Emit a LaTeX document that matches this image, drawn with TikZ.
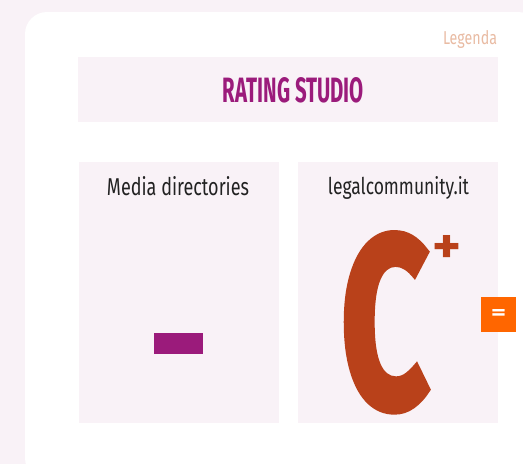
\documentclass[tikz,border=0pt]{standalone}
\usepackage{fontspec}
\usepackage{graphicx}
\setmainfont{Fira Sans}
\newfontfamily\heavyfont[FakeBold=3]{Fira Sans}
\definecolor{bgpink}{HTML}{F9F2F7}
\definecolor{titlepurple}{HTML}{9B1B7B}
\definecolor{legendpeach}{HTML}{E9BBA3}
\definecolor{darktext}{HTML}{222222}
\definecolor{ratingrust}{HTML}{B9411A}
\definecolor{eqorange}{HTML}{FF6600}
\begin{document}
\begin{tikzpicture}[x=1pt,y=-1pt,
  panel/.style={fill=bgpink,draw=none},
  lbl/.style={inner sep=0pt,outer sep=0pt,anchor=base}]
\useasboundingbox (0,0) rectangle (523,464);
\fill[bgpink] (0,0) rectangle (523,464);
\fill[white,rounded corners=22pt] (25,480) -- (25,12) -- (540,12) -- (540,480) -- cycle;
% Legenda
\node[lbl,anchor=base east,text=legendpeach] (legend) at (497,44) {\resizebox{54pt}{14pt}{Legenda}};
% title box
\path[panel] (78,57) rectangle (498,122);
\node[lbl,text=titlepurple] (title) at (293.5,102) {\resizebox{141pt}{25pt}{\bfseries RATING STUDIO}};
% left panel
\path[panel] (79,162) rectangle (279,423);
\node[lbl,text=darktext] (media) at (178,195) {\resizebox{142pt}{19pt}{Media directories}};
\fill[titlepurple] (154,333) rectangle (203,354);
% right panel
\path[panel] (298,162) rectangle (498,423);
\node[lbl,text=darktext] (legal) at (398.5,194) {\resizebox{141pt}{18pt}{legalcommunity.it}};
\node[lbl,anchor=south west,text=ratingrust] (cgrade) at (341,411) {\resizebox{88pt}{173pt}{\heavyfont\bfseries C}};
\node[lbl,anchor=south west,text=ratingrust] (plus) at (432,263) {\resizebox{29pt}{28pt}{\bfseries +}};
% orange equal badge
\node[fill=eqorange,minimum width=35pt,minimum height=35pt,inner sep=0pt,anchor=north west] (badge) at (481,297) {};
\node[text=white,inner sep=0pt] (eq) at (badge.center) {\resizebox{15pt}{10pt}{\bfseries =}};
\end{tikzpicture}
\end{document}
